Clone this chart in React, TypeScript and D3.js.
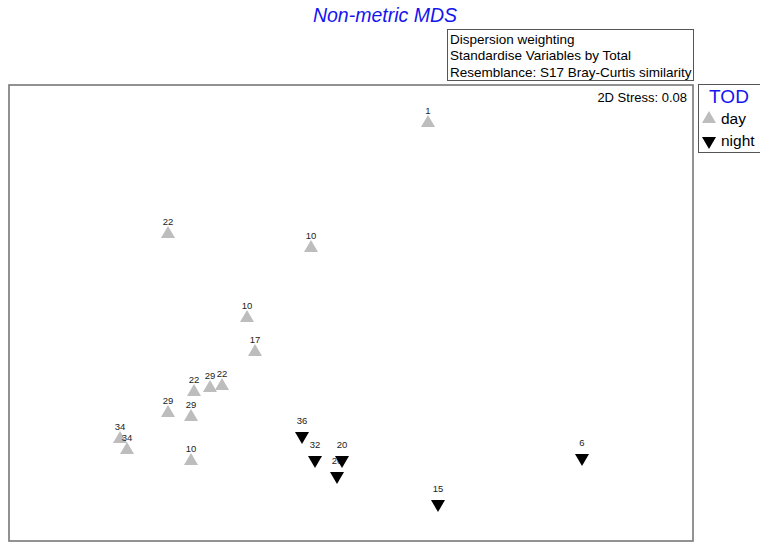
import React from "react";
import * as d3 from "d3";

// MDS ordination coordinates (arbitrary units)
const dayLabels = ["1", "22", "10", "10", "17", "22", "29", "22", "29", "29", "34", "34", "10"];
const dayMDS1 = [0.385, -0.915, -0.2, -0.52, -0.48, -0.785, -0.705, -0.645, -0.915, -0.8, -1.155, -1.12, -0.8];
const dayMDS2 = [0.95, 0.395, 0.325, -0.025, -0.195, -0.395, -0.375, -0.365, -0.5, -0.52, -0.63, -0.685, -0.74];

const nightLabels = ["36", "32", "20", "26", "15", "6"];
const nightMDS1 = [-0.245, -0.18, -0.045, -0.07, 0.435, 1.155];
const nightMDS2 = [-0.615, -0.735, -0.735, -0.815, -0.955, -0.725];

const groups = ["day", "night"];
const annotationLines = [
  "Dispersion weighting",
  "Standardise Variables by Total",
  "Resemblance: S17 Bray-Curtis similarity",
];
const stressText = "2D Stress: 0.08";

const W = 760;
const H = 542;
const frame = { x0: 9, y0: 85, x1: 693, y1: 541 };
const FONT = "Arial, 'Liberation Sans', sans-serif";

export default function App() {
  const x = d3.scaleLinear().domain([-1.71, 1.71]).range([frame.x0, frame.x1]);
  const y = d3.scaleLinear().domain([-1.14, 1.14]).range([frame.y1, frame.y0]);

  const tri = d3.symbol().type(d3.symbolTriangle).size(85)();

  const day = dayLabels.map((l, i) => ({ l, x: x(dayMDS1[i]), y: y(dayMDS2[i]) }));
  const night = nightLabels.map((l, i) => ({ l, x: x(nightMDS1[i]), y: y(nightMDS2[i]) }));

  return (
    <svg
      width={W}
      height={H}
      style={{ position: "absolute", left: 0, top: 0, background: "#fff" }}
      fontFamily={FONT}
    >
      <rect x={0} y={0} width={W} height={H} fill="#fff" />
      {/* title */}
      <text x={385} y={22} textAnchor="middle" fontSize={19.5} fontStyle="italic" fill="#1515f0">
        Non-metric MDS
      </text>
      {/* annotation box */}
      <rect x={447.5} y={29.5} width={246} height={51} fill="#fff" stroke="#555" strokeWidth={1} />
      {annotationLines.map((t, i) => (
        <text key={t} x={450} y={43.5 + i * 16.5} fontSize={13.5} fill="#000">
          {t}
        </text>
      ))}
      {/* plot frame */}
      <rect
        x={frame.x0}
        y={frame.y0}
        width={frame.x1 - frame.x0}
        height={frame.y1 - frame.y0}
        fill="none"
        stroke="#777"
        strokeWidth={1.6}
      />
      <text x={687} y={101.5} textAnchor="end" fontSize={13} fill="#000">
        {stressText}
      </text>
      {/* day points */}
      {day.map((d, i) => (
        <g key={"d" + i}>
          <path d={tri} transform={`translate(${d.x},${d.y})`} fill="#bdbdbd" />
          <text x={d.x} y={d.y - 9} textAnchor="middle" fontSize={9.5} fill="#222">
            {d.l}
          </text>
        </g>
      ))}
      {/* night labels first, then markers (markers cover labels like in original) */}
      {night.map((d, i) => (
        <text key={"nl" + i} x={d.x} y={d.y - 12} textAnchor="middle" fontSize={9.5} fill="#222">
          {d.l}
        </text>
      ))}
      {night.map((d, i) => (
        <path key={"n" + i} d={tri} transform={`translate(${d.x},${d.y}) rotate(180)`} fill="#000" />
      ))}
      {/* legend */}
      <rect x={698.5} y={84.5} width={70} height={68} fill="#fff" stroke="#555" strokeWidth={1} />
      <text x={729} y={103} textAnchor="middle" fontSize={19} fill="#1515f0">
        TOD
      </text>
      {groups.map((g, i) => (
        <g key={g}>
          <path
            d={tri}
            transform={`translate(${709},${i === 0 ? 119 : 141}) ${i === 1 ? "rotate(180)" : ""}`}
            fill={i === 0 ? "#bdbdbd" : "#000"}
          />
          <text x={721} y={i === 0 ? 124 : 146} fontSize={15.5} fill="#000">
            {g}
          </text>
        </g>
      ))}
    </svg>
  );
}
